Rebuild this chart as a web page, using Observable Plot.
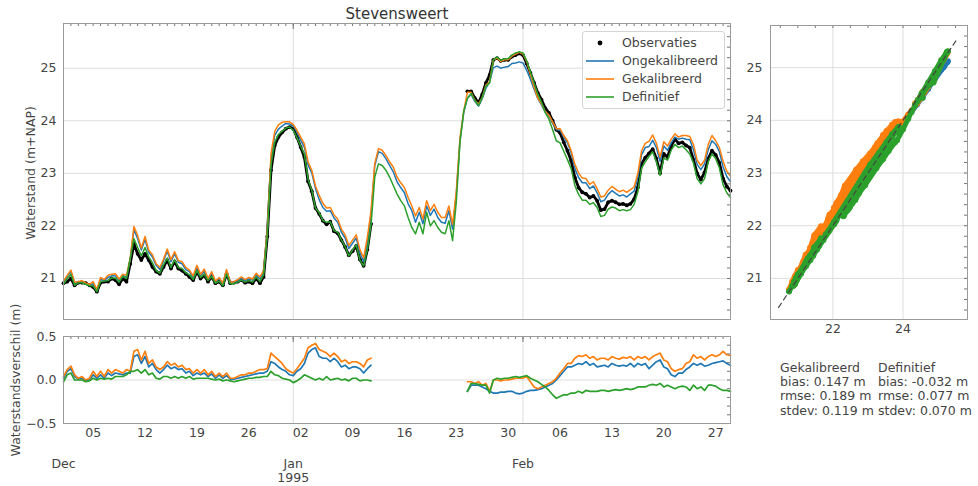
<!DOCTYPE html>
<html><head><meta charset="utf-8">
<script src="https://cdn.jsdelivr.net/npm/d3@7"></script>
<script src="https://cdn.jsdelivr.net/npm/@observablehq/plot@0.6"></script>
<style>
body{margin:0;background:#fff;font-family:"DejaVu Sans",sans-serif;color:#444}
#wrap{position:relative;width:978px;height:486px;overflow:hidden;background:#fff}
.abs{position:absolute;white-space:nowrap}
.rot{transform:translate(-50%,-50%) rotate(-90deg);font-size:12.5px;color:#444}
</style></head>
<body><div id="wrap"></div>
<script>
// ---------- data (12-hourly from 1994-12-01 00:00 UTC) ----------
const startDate = Date.UTC(1994, 11, 1);
const stepHours = 12;
const gapLength = 25; // 12-hourly steps without observations (1995-01-12 .. 1995-01-24)

const observatiesA = [20.91,20.94,21.00,20.87,20.92,20.92,20.91,20.87,20.84,20.75,
 20.92,20.94,20.94,21.00,20.97,20.89,21.00,20.94,21.28,21.66,
 21.47,21.35,21.47,21.35,21.22,21.13,21.09,21.22,21.35,21.19,
 21.32,21.19,21.15,21.09,21.03,20.97,21.13,21.00,21.06,20.94,
 21.03,20.91,20.94,20.87,21.09,20.91,20.92,20.94,20.97,20.92,
 20.94,20.91,21.00,20.91,21.03,21.80,23.06,23.53,23.69,23.78,
 23.85,23.88,23.85,23.69,23.50,23.31,22.85,22.66,22.34,22.23,
 22.10,22.03,22.08,21.90,21.86,21.73,21.60,21.44,21.52,21.62,
 21.36,21.24,21.55,22.04];
const observatiesB = [24.56,24.56,24.43,24.34,24.50,24.72,24.87,25.16,25.19,25.14,
 25.16,25.16,25.22,25.25,25.28,25.25,25.09,24.91,24.72,24.53,
 24.40,24.24,24.15,24.00,23.83,23.77,23.59,23.43,23.24,22.92,
 22.73,22.64,22.61,22.54,22.57,22.48,22.30,22.32,22.45,22.48,
 22.45,22.41,22.42,22.39,22.42,22.51,22.73,23.18,23.30,23.38,
 23.46,23.28,23.00,23.37,23.31,23.52,23.65,23.57,23.59,23.53,
 23.49,23.26,23.00,22.88,23.02,23.28,23.43,23.35,23.20,22.90,
 22.75,22.67];

const verschilOngekalibreerdA = [.02,.10,.13,.04,.01,.02,-.01,.00,.06,.02,
 .06,.02,.08,.05,.08,.07,.06,.08,.08,.27,
 .29,.19,.27,.15,.19,.12,.08,.12,.17,.13,
 .15,.12,.13,.08,.10,.05,.08,.06,.08,.04,
 .07,.02,.06,.02,.05,.01,.01,.02,.03,.04,
 .05,.06,.07,.08,.08,.10,.21,.19,.15,.12,
 .10,.06,.05,.10,.13,.19,.31,.35,.37,.27,
 .25,.25,.21,.25,.21,.15,.17,.13,.15,.15,
 .13,.08,.13,.17];
const verschilOngekalibreerdB = [-.13,-.06,-.06,-.06,-.08,-.10,-.13,-.15,-.15,-.14,
 -.14,-.13,-.13,-.15,-.16,-.15,-.13,-.12,-.12,-.11,
 -.10,-.08,-.06,-.04,.00,.05,.10,.15,.15,.17,
 .19,.18,.21,.17,.19,.15,.16,.17,.15,.19,
 .17,.16,.17,.16,.19,.15,.19,.17,.19,.13,
 .17,.21,.23,.15,.13,.06,.04,.08,.08,.12,
 .15,.19,.17,.19,.16,.17,.19,.20,.21,.22,
 .19,.17];
const verschilGekalibreerdA = [.04,.12,.16,.06,.02,.04,.00,.02,.10,.04,
 .10,.04,.12,.08,.12,.10,.08,.12,.10,.33,
 .35,.23,.33,.19,.23,.15,.12,.15,.21,.17,
 .19,.15,.17,.12,.13,.08,.12,.08,.12,.06,
 .10,.04,.08,.04,.08,.02,.02,.04,.06,.06,
 .08,.08,.10,.12,.12,.13,.31,.27,.23,.19,
 .13,.10,.08,.13,.19,.25,.37,.40,.42,.35,
 .33,.31,.27,.31,.27,.21,.23,.19,.21,.21,
 .19,.15,.23,.25];
const verschilGekalibreerdB = [-.02,-.02,-.04,-.02,-.06,-.04,-.13,.00,.00,-.01,
 .00,.00,.01,.02,.02,.02,.04,-.02,-.08,-.10,
 -.08,-.06,-.04,-.02,.02,.08,.13,.19,.19,.25,
 .28,.27,.29,.25,.27,.23,.25,.25,.23,.27,
 .25,.24,.26,.25,.27,.23,.27,.25,.27,.23,
 .27,.29,.31,.23,.21,.13,.10,.12,.13,.19,
 .21,.29,.25,.27,.23,.27,.29,.27,.29,.33,
 .29,.28];
const verschilDefinitiefA = [-.02,.06,.08,.00,.00,.00,-.02,-.01,.02,.00,
 .02,.01,.02,.01,.04,.04,.04,.06,.10,.10,
 .12,.08,.12,.06,.08,.02,.01,.04,.04,.02,
 .04,.02,.04,.02,.04,.01,.02,.02,.02,.02,
 .01,.00,.01,-.01,.00,-.01,-.02,-.01,.00,.01,
 .02,.02,.03,.03,.04,.04,.10,.06,.05,.02,
 .01,.00,-.03,-.01,.02,.06,.04,.02,.00,.02,
 .00,.04,.00,.01,.02,.00,.01,-.01,.02,.02,
 -.01,.00,.00,-.01];
const verschilDefinitiefB = [-.13,-.04,-.04,-.05,-.06,-.06,-.15,.00,.02,.01,
 .02,.02,.03,.04,.03,.04,.05,.02,.00,-.02,
 -.05,-.08,-.12,-.17,-.21,-.19,-.17,-.17,-.15,-.15,
 -.13,-.15,-.12,-.13,-.13,-.13,-.12,-.12,-.13,-.12,
 -.11,-.12,-.11,-.10,-.11,-.10,-.08,-.08,-.08,-.06,
 -.05,-.06,-.04,-.08,-.06,-.08,-.10,-.08,-.07,-.08,
 -.12,-.06,-.10,-.08,-.12,-.06,-.06,-.07,-.10,-.12,
 -.12,-.13];

// model water levels during the observation gap (m+NAP)
const gapOngekalibreerd = [23.15,23.41,23.38,23.28,23.15,23.03,22.84,22.73,22.63,22.42,22.29,22.07,22.26,22.04,22.38,22.20,22.32,22.16,22.07,22.05,22.29,21.94,22.60,23.62,24.15];
const gapGekalibreerd   = [23.19,23.47,23.44,23.34,23.22,23.12,22.93,22.82,22.73,22.54,22.38,22.19,22.35,22.13,22.48,22.29,22.41,22.26,22.16,22.16,22.38,22.03,22.66,23.68,24.18];
const gapDefinitief     = [22.93,23.18,23.15,23.06,22.93,22.77,22.61,22.48,22.38,22.16,21.97,21.85,22.07,21.85,22.26,22.00,22.10,21.97,21.88,21.85,22.10,21.72,22.45,23.60,24.18];

// axes / labels
const titleText = "Stevensweert";
const yLabelMain = "Waterstand (m+NAP)";
const yLabelDiff = "Waterstandsverschil (m)";
const yTicksMain = [21, 22, 23, 24, 25];
const yTicksDiff = [-0.5, 0, 0.5];
const xTicksScatter = [22, 24];
const monthTickDates = [new Date(Date.UTC(1994,11,1)), new Date(Date.UTC(1995,0,1)), new Date(Date.UTC(1995,1,1))];
const monthTickLabels = ["Dec", "Jan\n1995", "Feb"];
const diagonal = [20.45, 25.55];
const legendLabels = ["Observaties", "Ongekalibreerd", "Gekalibreerd", "Definitief"];
const seriesColors = ["#000000", "#1f77b4", "#ff7f0e", "#2ca02c"];
const statsNames = ["Gekalibreerd", "Definitief"];
const statsBias = ["0.147", "-0.032"];
const statsRmse = ["0.189", "0.077"];
const statsStdev = ["0.119", "0.070"];

// ---------- build rows ----------
const nulls = Array(gapLength).fill(null);
const obsAll = [...observatiesA, ...nulls, ...observatiesB];
const vOng = [...verschilOngekalibreerdA, ...nulls, ...verschilOngekalibreerdB];
const vGek = [...verschilGekalibreerdA, ...nulls, ...verschilGekalibreerdB];
const vDef = [...verschilDefinitiefA, ...nulls, ...verschilDefinitiefB];
const gapStart = observatiesA.length;
const rows = obsAll.map((obs, i) => {
  const date = new Date(startDate + i * stepHours * 3600e3);
  const has = obs != null;
  const g = i - gapStart;
  return {
    date, obs,
    ong: has ? obs + vOng[i] : gapOngekalibreerd[g],
    gek: has ? obs + vGek[i] : gapGekalibreerd[g],
    def: has ? obs + vDef[i] : gapDefinitief[g],
    dOng: vOng[i], dGek: vGek[i], dDef: vDef[i]
  };
});

const xDomain = [new Date(Date.UTC(1994,11,1)), new Date(Date.UTC(1995,2,1))];
const dayTicks = d3.utcDay.range(xDomain[0], xDomain[1]);
const weekTicks = d3.utcMonday.range(xDomain[0], xDomain[1]);
const [cObs, cOng, cGek, cDef] = seriesColors;
const gridStyle = {stroke: "#dedede", strokeOpacity: 1};
const frameColor = "#9a9a9a";
const tickColor = "#777";
const baseStyle = {fontFamily: "DejaVu Sans", fontSize: "12.5px", color: "#444", background: "transparent", overflow: "visible"};

const wrap = document.getElementById("wrap");
function place(node, left, top) {
  node.style.position = "absolute";
  node.style.left = left + "px";
  node.style.top = top + "px";
  wrap.appendChild(node);
}

// ---------- main panel ----------
const mainW = 740, mainH = 330, mL = 63, mR = 10, mT = 23, mB = 11;
const mPlotW = mainW - mL - mR, mPlotH = mainH - mT - mB;
const mainPlot = Plot.plot({
  width: mainW, height: mainH, marginLeft: mL, marginRight: mR, marginTop: mT, marginBottom: mB,
  x: {type: "utc", domain: xDomain, axis: null, label: null},
  y: {domain: [20.22, 25.85], axis: null, label: null},
  style: baseStyle,
  marks: [
    Plot.gridY(yTicksMain, gridStyle),
    Plot.gridX(monthTickDates.slice(1), gridStyle),
    Plot.axisY(yTicksMain, {anchor: "left", label: null, tickSize: 0, tickPadding: 7, tickFormat: d => String(d)}),
    Plot.line(rows, {x: "date", y: "obs", stroke: cObs, strokeWidth: 2.8}),
    Plot.dot(rows, {x: "date", y: "obs", r: 1.9, fill: cObs}),
    Plot.line(rows, {x: "date", y: "ong", stroke: cOng, strokeWidth: 1.5}),
    Plot.line(rows, {x: "date", y: "gek", stroke: cGek, strokeWidth: 1.5}),
    Plot.line(rows, {x: "date", y: "def", stroke: cDef, strokeWidth: 1.5}),
    Plot.tickX(dayTicks, {x: d => d, insetBottom: mPlotH - 3, stroke: tickColor}),
    Plot.tickX(monthTickDates, {x: d => d, insetBottom: mPlotH - 6, stroke: tickColor}),
    Plot.tickY(d3.range(204, 259, 2).map(v => v / 10), {y: d => d, insetLeft: mPlotW - 3, stroke: tickColor}),
    Plot.frame({stroke: frameColor})
  ]
});
place(mainPlot, 0, 0);

// ---------- difference panel ----------
const dW = 740, dH = 160, dT = 10, dB = 63;
const dPlotW = dW - mL - mR, dPlotH = dH - dT - dB;
const diffPlot = Plot.plot({
  width: dW, height: dH, marginLeft: mL, marginRight: mR, marginTop: dT, marginBottom: dB,
  x: {type: "utc", domain: xDomain, axis: null, label: null},
  y: {domain: [-0.5, 0.5], axis: null, label: null},
  style: baseStyle,
  marks: [
    Plot.gridY(yTicksDiff, gridStyle),
    Plot.gridX(monthTickDates.slice(1), gridStyle),
    Plot.axisY(yTicksDiff, {anchor: "left", label: null, tickSize: 0, tickPadding: 7, tickFormat: d3.format(".1f")}),
    Plot.axisX(weekTicks, {anchor: "bottom", label: null, tickSize: 0, tickPadding: 5, tickFormat: d3.utcFormat("%d")}),
    Plot.axisX(monthTickDates, {anchor: "bottom", label: null, tickSize: 0, tickPadding: 35, lineHeight: 1.1,
      tickFormat: d => monthTickLabels[monthTickDates.findIndex(m => +m === +d)]}),
    Plot.line(rows, {x: "date", y: "dOng", stroke: cOng, strokeWidth: 1.7}),
    Plot.line(rows, {x: "date", y: "dGek", stroke: cGek, strokeWidth: 1.7}),
    Plot.line(rows, {x: "date", y: "dDef", stroke: cDef, strokeWidth: 1.7}),
    Plot.tickX(dayTicks, {x: d => d, insetBottom: dPlotH - 3, stroke: tickColor}),
    Plot.tickX(monthTickDates, {x: d => d, insetBottom: dPlotH - 6, stroke: tickColor}),
    Plot.tickY(d3.range(-5, 6).map(v => v / 10), {y: d => d, insetLeft: dPlotW - 3, stroke: tickColor}),
    Plot.frame({stroke: frameColor})
  ]
});
place(diffPlot, 0, 326);

// ---------- scatter panel ----------
const sW = 238, sH = 345, sL = 30, sR = 11, sT = 25, sB = 26;
const sPlotW = sW - sL - sR, sPlotH = sH - sT - sB;
const scatterMarks = [];
[["ong", cOng], ["gek", cGek], ["def", cDef]].forEach(([key, col]) => {
  scatterMarks.push(Plot.line(rows, {x: "obs", y: key, stroke: col, strokeWidth: 5, strokeLinecap: "round", strokeLinejoin: "round"}));
  scatterMarks.push(Plot.dot(rows, {x: "obs", y: key, r: 3, fill: col}));
});
const scatterPlot = Plot.plot({
  width: sW, height: sH, marginLeft: sL, marginRight: sR, marginTop: sT, marginBottom: sB,
  x: {domain: [20.22, 25.84], axis: null, label: null},
  y: {domain: [20.22, 25.80], axis: null, label: null},
  style: baseStyle,
  marks: [
    Plot.gridY(yTicksMain, gridStyle),
    Plot.gridX(xTicksScatter, gridStyle),
    Plot.axisY(yTicksMain, {anchor: "left", label: null, tickSize: 0, tickPadding: 8, tickFormat: d => String(d)}),
    Plot.axisX(xTicksScatter, {anchor: "bottom", label: null, tickSize: 0, tickPadding: 5, tickFormat: d => String(d)}),
    ...scatterMarks,
    Plot.line(diagonal, {x: d => d, y: d => d, stroke: "#444", strokeWidth: 1.2, strokeDasharray: "5,4"}),
    Plot.tickX(d3.range(41, 52).map(v => v / 2), {x: d => d, insetBottom: sPlotH - 3, stroke: tickColor}),
    Plot.tickY(d3.range(204, 259, 2).map(v => v / 10), {y: d => d, insetLeft: sPlotW - 3, stroke: tickColor}),
    Plot.frame({stroke: frameColor})
  ]
});
place(scatterPlot, 740, 0);

// ---------- texts ----------
function textDiv(txt, cls, css) {
  const d = document.createElement("div");
  d.className = "abs " + (cls || "");
  d.textContent = txt;
  Object.assign(d.style, css || {});
  wrap.appendChild(d);
  return d;
}
textDiv(titleText, "", {left: "397px", top: "14px", transform: "translate(-50%,-50%)", fontSize: "15px", color: "#333"});
textDiv(yLabelMain, "rot", {left: "30px", top: "173px"});
textDiv(yLabelDiff, "rot", {left: "15px", top: "380px"});

// legend
const legend = document.createElement("div");
Object.assign(legend.style, {position: "absolute", left: "582px", top: "31px", width: "141px", height: "76px",
  border: "1px solid #d4d4d4", borderRadius: "3px", background: "rgba(255,255,255,0.85)"});
wrap.appendChild(legend);
legendLabels.forEach((lab, i) => {
  const cy = 11 + i * 18;
  const sw = document.createElementNS("http://www.w3.org/2000/svg", "svg");
  sw.setAttribute("width", "28"); sw.setAttribute("height", "10");
  Object.assign(sw.style, {position: "absolute", left: "3px", top: (cy - 5) + "px"});
  if (i === 0) {
    const c = document.createElementNS("http://www.w3.org/2000/svg", "circle");
    c.setAttribute("cx", "14"); c.setAttribute("cy", "5"); c.setAttribute("r", "2.4"); c.setAttribute("fill", seriesColors[i]);
    sw.appendChild(c);
  } else {
    const l = document.createElementNS("http://www.w3.org/2000/svg", "line");
    l.setAttribute("x1", "0"); l.setAttribute("x2", "28"); l.setAttribute("y1", "5"); l.setAttribute("y2", "5");
    l.setAttribute("stroke", seriesColors[i]); l.setAttribute("stroke-width", "1.6");
    sw.appendChild(l);
  }
  legend.appendChild(sw);
  const t = document.createElement("div");
  t.textContent = lab;
  Object.assign(t.style, {position: "absolute", left: "39px", top: (cy - 8) + "px", fontSize: "12.5px", lineHeight: "16px", color: "#444", whiteSpace: "nowrap"});
  legend.appendChild(t);
});

// statistics
const statX = [780, 878];
statsNames.forEach((name, j) => {
  const lines = [name, "bias: " + statsBias[j] + " m", "rmse: " + statsRmse[j] + " m", "stdev: " + statsStdev[j] + " m"];
  lines.forEach((ln, k) => {
    textDiv(ln, "", {left: statX[j] + "px", top: (360 + k * 14.2) + "px", fontSize: "12.5px", lineHeight: "15px", color: "#444"});
  });
});
</script>
</body></html>
